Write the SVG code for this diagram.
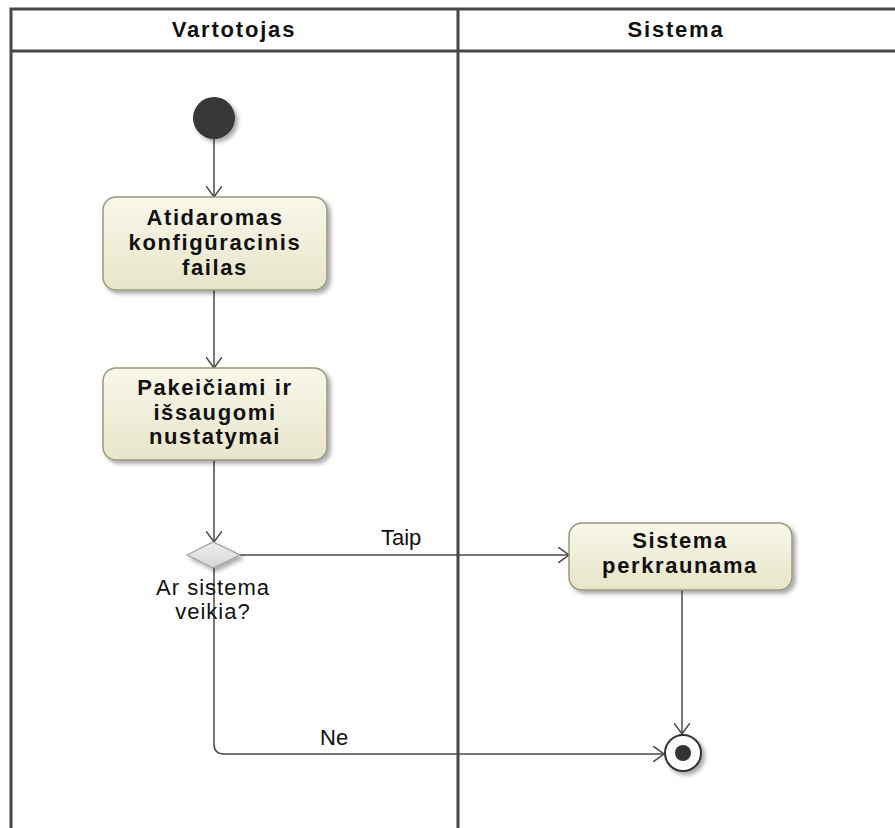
<svg xmlns="http://www.w3.org/2000/svg" width="895" height="828" viewBox="0 0 895 828">
  <style>
    .lane { stroke: #474747; stroke-width: 3; fill: none; }
    .head { font-family: "Liberation Sans", Arial, sans-serif; font-weight: bold; font-size: 22px; letter-spacing: 1.8px; fill: #111; text-anchor: middle; }
    .act { fill: url(#actFill); stroke: #9a987c; stroke-width: 1.5; }
    .actText { font-family: "Liberation Sans", Arial, sans-serif; font-weight: bold; font-size: 22px; letter-spacing: 1.6px; fill: #111; text-anchor: middle; }
    .lbl { font-family: "Liberation Sans", Arial, sans-serif; font-size: 22px; fill: #111; }
    .flow { stroke: #4a4a4a; stroke-width: 1.5; fill: none; marker-end: url(#arrow); }
  </style>
  <defs>
    <linearGradient id="actFill" x1="0" y1="0" x2="0" y2="1">
      <stop offset="0" stop-color="#f8f7ea"/>
      <stop offset="1" stop-color="#e7e5c9"/>
    </linearGradient>
    <linearGradient id="decFill" x1="0" y1="0" x2="0" y2="1">
      <stop offset="0" stop-color="#efefef"/>
      <stop offset="1" stop-color="#d4d4d4"/>
    </linearGradient>
    <filter id="shadow" x="-20%" y="-20%" width="150%" height="160%">
      <feGaussianBlur in="SourceAlpha" stdDeviation="2"/>
      <feOffset dx="3" dy="3" result="b"/>
      <feComponentTransfer><feFuncA type="linear" slope="0.35"/></feComponentTransfer>
      <feMerge><feMergeNode/><feMergeNode in="SourceGraphic"/></feMerge>
    </filter>
    <marker id="arrow" viewBox="0 0 12 16" refX="11" refY="8" markerWidth="12" markerHeight="16" markerUnits="userSpaceOnUse" orient="auto">
      <path d="M0,0 L11,8 L0,16" fill="none" stroke="#4a4a4a" stroke-width="1.5"/>
    </marker>
  </defs>

  <!-- swimlanes -->
  <g id="lanes">
    <rect x="0" y="0" width="895" height="828" fill="#fff"/>
    <path class="lane" d="M11,828 V9 H895 M11,51 H895 M458,9 V828"/>
    <text class="head" x="234" y="37">Vartotojas</text>
    <text class="head" x="676" y="37">Sistema</text>
  </g>

  <!-- connectors -->
  <g id="connectors">
    <path class="flow" d="M214,139 V197"/>
    <path class="flow" d="M214,290 V368"/>
    <path class="flow" d="M214,460 V542"/>
    <path class="flow" d="M240,555 H569"/>
    <path class="flow" d="M682,590 V734"/>
    <path class="flow" d="M214,568 V744 Q214,754 224,754 H664"/>
    <text class="lbl" x="381" y="545">Taip</text>
    <text class="lbl" x="320" y="745">Ne</text>
  </g>

  <g id="start">
    <circle cx="214" cy="118" r="21" fill="#383838" filter="url(#shadow)"/>
  </g>

  <g id="open-file">
    <rect class="act" x="103" y="197" width="224" height="93" rx="13" filter="url(#shadow)"/>
    <text class="actText" x="215" y="225">Atidaromas</text>
    <text class="actText" x="215" y="250">konfigūracinis</text>
    <text class="actText" x="215" y="275">failas</text>
  </g>

  <g id="save-settings">
    <rect class="act" x="103" y="368" width="224" height="92" rx="13" filter="url(#shadow)"/>
    <text class="actText" x="215" y="395">Pakeičiami ir</text>
    <text class="actText" x="215" y="420">išsaugomi</text>
    <text class="actText" x="215" y="444">nustatymai</text>
  </g>

  <g id="decision">
    <path d="M187,555 L213,542 L240,555 L213,568 Z" fill="url(#decFill)" stroke="#a0a0a0" stroke-width="1.2" filter="url(#shadow)"/>
    <text class="lbl" x="213" y="595" text-anchor="middle" font-size="23" letter-spacing="1">Ar sistema</text>
    <text class="lbl" x="213" y="619" text-anchor="middle" font-size="23" letter-spacing="1">veikia?</text>
  </g>

  <g id="restart">
    <rect class="act" x="569" y="523" width="223" height="67" rx="13" filter="url(#shadow)"/>
    <text class="actText" x="680" y="548">Sistema</text>
    <text class="actText" x="680" y="573">perkraunama</text>
  </g>

  <g id="end">
    <circle cx="683" cy="753" r="18" fill="#fff" stroke="#333" stroke-width="2" filter="url(#shadow)"/>
    <circle cx="683" cy="753" r="8" fill="#333"/>
  </g>
</svg>
